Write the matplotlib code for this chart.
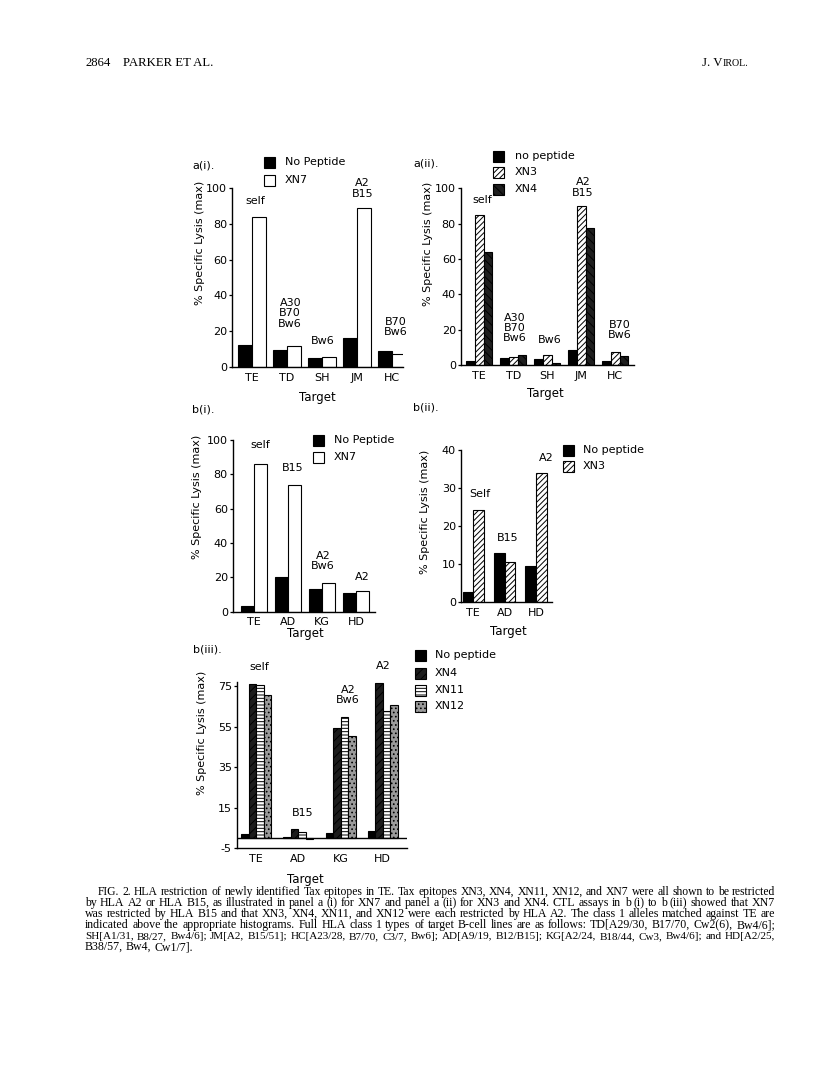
import matplotlib
matplotlib.use("Agg")
import matplotlib.pyplot as plt
from matplotlib.patches import Rectangle
import numpy as np

W, H = 816, 1071
plt.rcParams['font.family'] = ['DejaVu Sans']
plt.rcParams['hatch.linewidth'] = 0.7
plt.rcParams['axes.unicode_minus'] = False

# ---------------- data ----------------
ai_targets = ["TE", "TD", "SH", "JM", "HC"]
ai_nopep = [12.5, 9.5, 5.0, 16.0, 8.7]
ai_xn7 = [84.0, 11.8, 5.8, 89.0, 7.2]
ai_notes = ["self", "A30\nB70\nBw6", "Bw6", "A2\nB15", "B70\nBw6"]

aii_targets = ["TE", "TD", "SH", "JM", "HC"]
aii_nopep = [2.5, 3.8, 3.2, 8.6, 2.3]
aii_xn3 = [85.0, 4.8, 5.8, 90.0, 7.3]
aii_xn4 = [64.0, 5.8, 1.0, 77.5, 5.0]
aii_notes = ["self", "A30\nB70\nBw6", "Bw6", "A2\nB15", "B70\nBw6"]

bi_targets = ["TE", "AD", "KG", "HD"]
bi_nopep = [3.6, 20.5, 13.3, 10.6]
bi_xn7 = [86.0, 74.0, 16.7, 12.0]
bi_notes = ["self", "B15", "A2\nBw6", "A2"]

bii_targets = ["TE", "AD", "HD"]
bii_nopep = [2.6, 13.0, 9.5]
bii_xn3 = [24.2, 10.7, 34.0]
bii_notes = ["Self", "B15", "A2"]

biii_targets = ["TE", "AD", "KG", "HD"]
biii_nopep = [2.0, 0.7, 2.4, 3.5]
biii_xn4 = [75.8, 4.5, 54.5, 76.5]
biii_xn11 = [75.5, 3.2, 59.8, 62.5]
biii_xn12 = [70.6, -0.5, 50.2, 65.8]
biii_notes = ["self", "B15", "A2\nBw6", "A2"]
biii_yticks = [-5, 15, 35, 55, 75]

caption_lines = [
    "FIG. 2. HLA restriction of newly identified Tax epitopes in TE. Tax epitopes XN3, XN4, XN11, XN12, and XN7 were all shown to be restricted",
    "by HLA A2 or HLA B15, as illustrated in panel a (i) for XN7 and panel a (ii) for XN3 and XN4. CTL assays in b (i) to b (iii) showed that XN7",
    "was restricted by HLA B15 and that XN3, XN4, XN11, and XN12 were each restricted by HLA A2. The class 1 alleles matched against TE are",
    "indicated above the appropriate histograms. Full HLA class 1 types of target B-cell lines are as follows: TD[A29/30, B17/70, Cw2(6), Bw4/6];",
    "SH[A1/31, B8/27, Bw4/6]; JM[A2, B15/51]; HC[A23/28, B7/70, C3/7, Bw6]; AD[A9/19, B12/B15]; KG[A2/24, B18/44, Cw3, Bw4/6]; and HD[A2/25,",
    "B38/57, Bw4, Cw1/7].",
]

# ---------------- helpers ----------------
fig = plt.figure(figsize=(W / 100, H / 100), dpi=100)
FS = 8


def fx(x):
    return x / W


def fy(y):
    return 1 - y / H


def make_ax(x0, x1, ytop, ybot):
    return fig.add_axes([fx(x0), fy(ybot), (x1 - x0) / W, (ybot - ytop) / H])


def style_ax(ax, labels):
    for s in ("top", "right"):
        ax.spines[s].set_visible(False)
    for s in ("left", "bottom"):
        ax.spines[s].set_linewidth(1.0)
    ax.set_xticks(range(len(labels)))
    ax.set_xticklabels(labels, fontsize=FS)
    ax.tick_params(axis="x", length=0, pad=4)
    ax.tick_params(axis="y", length=2.5, width=0.9, pad=1, labelsize=FS, direction="out")


def notes(ax, notes_list, xs, ys):
    for t, x, y in zip(notes_list, xs, ys):
        ax.text(x, y, t, ha="center", va="center", fontsize=FS, linespacing=1.05)


def legend(x_sq, x_txt, rows, entries, size=11):
    for (lab, fc, hatch), yc in zip(entries, rows):
        r = Rectangle((fx(x_sq), fy(yc + size / 2)), size / W, size / H,
                      transform=fig.transFigure, facecolor=fc, edgecolor="black",
                      hatch=hatch, lw=0.8)
        fig.patches.append(r)
        fig.text(fx(x_txt), fy(yc), lab, ha="left", va="center", fontsize=FS)


def ylab(x, y):
    fig.text(fx(x), fy(y), "% Specific Lysis (max)", rotation=90, ha="center",
             va="center", fontsize=FS)


def xlab(x, y):
    fig.text(fx(x), fy(y), "Target", ha="center", va="center", fontsize=FS + 0.5)


BAR = dict(edgecolor="black", linewidth=0.8)

# ---------------- a(i) ----------------
ax = make_ax(232, 403, 188, 367)
x = np.arange(len(ai_targets))
w = 0.4
ax.bar(x - w / 2, ai_nopep, w, color="black", **BAR)
ax.bar(x + w / 2, ai_xn7, w, color="white", **BAR)
ax.set_xlim(-0.563, 4.32)
ax.set_ylim(0, 100)
ax.set_yticks([0, 20, 40, 60, 80, 100])
style_ax(ax, ai_targets)
notes(ax, ai_notes, [0.1, 1.1, 2.03, 3.17, 4.1], [92.7, 30, 14.5, 99.8, 22.2])
legend(264, 285, [162, 180], [("No Peptide", "black", None), ("XN7", "white", None)])
fig.text(fx(192), fy(165), "a(i).", fontsize=FS, va="center")
ylab(200, 243)
xlab(317, 397)

# ---------------- a(ii) ----------------
ax = make_ax(460.7, 634, 188.3, 365)
x = np.arange(len(aii_targets))
w = 0.256
ax.bar(x - w, aii_nopep, w, color="black", **BAR)
ax.bar(x, aii_xn3, w, color="white", hatch="//////", **BAR)
ax.bar(x + w, aii_xn4, w, color="#1e1e1e", hatch="\\\\\\\\", **BAR)
ax.set_xlim(-0.547, 4.55)
ax.set_ylim(0, 100)
ax.set_yticks([0, 20, 40, 60, 80, 100])
style_ax(ax, aii_targets)
notes(ax, aii_notes, [0.08, 1.05, 2.08, 3.05, 4.14], [93.4, 20.9, 14.1, 100.4, 19.8])
legend(493, 515, [156, 172, 189], [("no peptide", "black", None), ("XN3", "white", "//////"),
                                   ("XN4", "#1e1e1e", "\\\\\\\\")])
fig.text(fx(413), fy(163), "a(ii).", fontsize=FS, va="center")
ylab(428, 244)
xlab(545, 393)

# ---------------- b(i) ----------------
ax = make_ax(232.7, 375, 440, 611.7)
x = np.arange(len(bi_targets))
w = 0.37
ax.bar(x - w / 2, bi_nopep, w, color="black", **BAR)
ax.bar(x + w / 2, bi_xn7, w, color="white", **BAR)
ax.set_xlim(-0.626, 3.56)
ax.set_ylim(0, 100)
ax.set_yticks([0, 20, 40, 60, 80, 100])
style_ax(ax, bi_targets)
notes(ax, bi_notes, [0.18, 1.15, 2.03, 3.18], [97, 83.7, 29.5, 20.2])
legend(313, 334, [440, 457], [("No Peptide", "black", None), ("XN7", "white", None)])
fig.text(fx(192), fy(410), "b(i).", fontsize=FS, va="center")
ylab(197, 497)
xlab(305, 634)

# ---------------- b(ii) ----------------
ax = make_ax(460.7, 551.7, 450, 602.3)
x = np.arange(len(bii_targets))
w = 0.335
ax.bar(x - w / 2, bii_nopep, w, color="black", **BAR)
ax.bar(x + w / 2, bii_xn3, w, color="white", hatch="//////", **BAR)
ax.set_xlim(-0.40, 2.5)
ax.set_ylim(0, 40)
ax.set_yticks([0, 10, 20, 30, 40])
style_ax(ax, bii_targets)
notes(ax, bii_notes, [0.21, 1.1, 2.32], [28.4, 16.9, 37.9])
legend(563, 583, [450, 466], [("No peptide", "black", None), ("XN3", "white", "//////")])
fig.text(fx(413), fy(407), "b(ii).", fontsize=FS, va="center")
ylab(425, 512)
xlab(508, 632)

# ---------------- b(iii) ----------------
ax = make_ax(236.7, 406.7, 681.9, 848.3)
x = np.arange(len(biii_targets))
w = 0.178
ax.bar(x - 1.5 * w, biii_nopep, w, color="black", **BAR)
ax.bar(x - 0.5 * w, biii_xn4, w, color="#1c1c1c", hatch="////", **BAR)
ax.bar(x + 0.5 * w, biii_xn11, w, color="white", hatch="-----", **BAR)
ax.bar(x + 1.5 * w, biii_xn12, w, color="#9a9a9a", hatch="....", **BAR)
ax.axhline(0, color="black", lw=1.0)
ax.set_xlim(-0.466, 3.57)
ax.set_ylim(-5, 77)
ax.set_yticks(biii_yticks)
style_ax(ax, biii_targets)
ax.tick_params(axis="x", pad=4)
notes(ax, biii_notes, [0.06, 1.11, 2.18, 3.01], [84.4, 12.4, 70.6, 84.9])
legend(415, 435, [655, 673, 690, 706],
       [("No peptide", "black", None), ("XN4", "#1c1c1c", "////"),
        ("XN11", "white", "-----"), ("XN12", "#9a9a9a", "....")])
fig.text(fx(193), fy(650), "b(iii).", fontsize=FS, va="center")
ylab(202, 733)
xlab(305, 879)

# ---------------- header ----------------
SERIF = ["Liberation Serif", "DejaVu Serif"]
renderer = fig.canvas.get_renderer()
fig.text(fx(85), fy(63), "2864", family=SERIF, fontsize=9.2, va="center")
fig.text(fx(123), fy(63), "PARKER ET AL.", family=SERIF, fontsize=9.2, va="center")
tv2 = fig.text(fx(748), fy(63), "IROL.", family=SERIF, fontsize=7.2, va="baseline", ha="right")
w2 = tv2.get_window_extent(renderer).width
tv2.set_y(fy(66.5))
fig.text(fx(748 - w2), fy(66.5), "J. V", family=SERIF, fontsize=9.2, va="baseline", ha="right")

# ---------------- caption (justified) ----------------
left_body, left_first, right_edge = 85, 98, 775
cap_y0, cap_dy = 895, 11.0
base = 10.0
ratios = []
for i, line in enumerate(caption_lines[:-1]):
    t = fig.text(0, 0, line, family=SERIF, fontsize=base)
    nat = t.get_window_extent(renderer).width
    t.remove()
    x0 = left_first if i == 0 else left_body
    ratios.append((right_edge - x0) / nat)
common = base * float(np.median(ratios)) * 0.985

for i, line in enumerate(caption_lines):
    y = cap_y0 + i * cap_dy
    x0 = left_first if i == 0 else left_body
    size = common if i == len(caption_lines) - 1 else min(common, base * ratios[i] * 0.99)
    words = line.split(" ")
    texts = [fig.text(0, 0, wd, family=SERIF, fontsize=size, va="baseline") for wd in words]
    widths = [t.get_window_extent(renderer).width for t in texts]
    if i < len(caption_lines) - 1 and len(words) > 1:
        gap = (right_edge - x0 - sum(widths)) / (len(words) - 1)
    else:
        gap = size * 100 / 72 * 0.25
    xc = x0
    for t, wd in zip(texts, widths):
        t.set_position((fx(xc), fy(y)))
        xc += wd + gap

fig.savefig("out.png", dpi=100, facecolor="white")
